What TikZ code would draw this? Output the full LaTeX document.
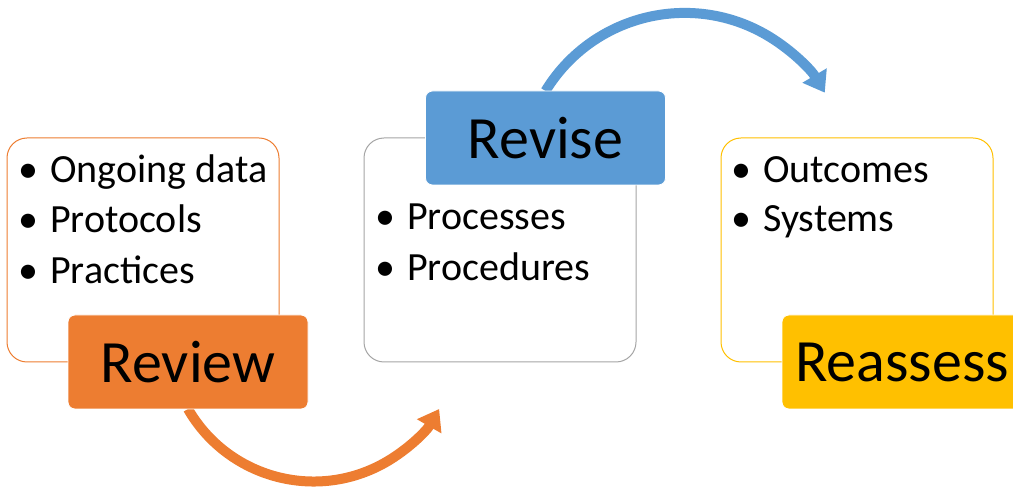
\documentclass[tikz,border=0pt]{standalone}
\usepackage{fontspec}
\setmainfont{Carlito}
\usetikzlibrary{arrows.meta}
\definecolor{cOrange}{HTML}{ED7D31}
\definecolor{cBlue}{HTML}{5B9BD5}
\definecolor{cYellow}{HTML}{FFC000}
\definecolor{cGray}{HTML}{A5A5A5}
\begin{document}
\begin{tikzpicture}[x=1pt,y=1pt,
  outline/.style={draw=#1, line width=1pt, rounded corners=20pt, minimum width=272pt, minimum height=224pt, inner sep=0pt, fill=white},
  labelbox/.style={fill=#1, draw=white, line width=0.8pt, rounded corners=7pt, minimum width=240pt, minimum height=94pt, inner sep=0pt, font=\fontsize{60}{62}\selectfont, text=black},
  item/.style={anchor=base west, inner sep=0pt, font=\fontsize{40}{51}\selectfont, text=black},
  cyclearrow/.style={draw=#1, line width=10pt, -{Triangle[length=20pt,width=27pt]}}
]
\useasboundingbox (0,0) rectangle (1013,490);
\clip (0,0) rectangle (1013,490);
% content boxes
\node[outline=cOrange] (boxL) at (143,240) {};
\node[outline=cGray] (boxM) at (500,240) {};
\node[outline=cYellow] (boxR) at (857,240) {};
% bullet items
\node[item] (l1) at (50,307) {\llap{•\hspace{12pt}}Ongoing data};
\node[item] (l2) at (50,257) {\llap{•\hspace{12pt}}Protocols};
\node[item] (l3) at (50,206) {\llap{•\hspace{12pt}}Practices};
\node[item] (m1) at (407,260) {\llap{•\hspace{12pt}}Processes};
\node[item] (m2) at (407,209) {\llap{•\hspace{12pt}}Procedures};
\node[item] (r1) at (763,307) {\llap{•\hspace{12pt}}Outcomes};
\node[item] (r2) at (763,258) {\llap{•\hspace{12pt}}Systems};
% arrow start points
\coordinate (reviewS) at (188,81);
\coordinate (reviseN) at (545.5,399);
% arrows
\draw[cyclearrow=cOrange] (reviewS) arc[start angle=210, end angle=330, radius=145pt];
\draw[cyclearrow=cBlue] (reviseN) arc[start angle=148.6, end angle=30.7, radius=163pt];
% label boxes
\node[labelbox=cOrange] (review) at (188,128) {Review};
\node[labelbox=cBlue] (revise) at (545.5,352) {Revise};
\node[labelbox=cYellow] (reassess) at (902,128) {Reassess};
\end{tikzpicture}
\end{document}
